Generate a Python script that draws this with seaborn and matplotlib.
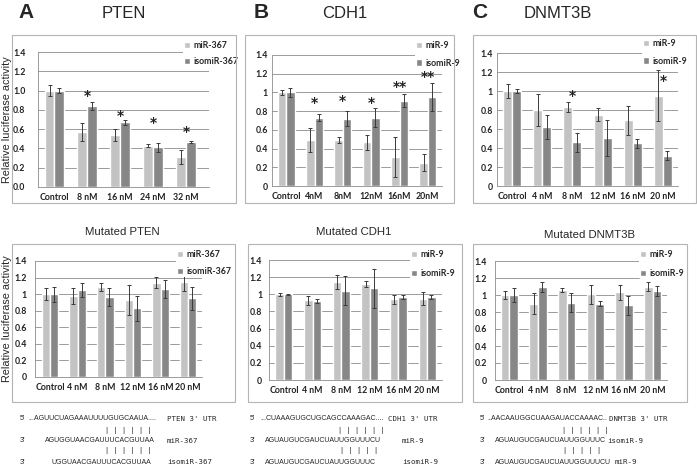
import matplotlib
matplotlib.use("Agg")
import numpy as np
import pandas as pd
import seaborn as sns
import matplotlib.pyplot as plt
from matplotlib.patches import Rectangle
from matplotlib import font_manager

# ---------------- data ----------------
series_367 = ['miR-367', 'isomiR-367']
series_9 = ['miR-9', 'isomiR-9']

doses_pten = ['Control', '8 nM', '16 nM', '24 nM', '32 nM']
doses_cdh1 = ['Control', '4nM', '8nM', '12nM', '16nM', '20nM']
doses_std = ['Control', '4 nM', '8 nM', '12 nM', '16 nM', '20 nM']

yticks_1dec = ['0.0', '0.2', '0.4', '0.6', '0.8', '1.0', '1.2', '1.4']
yticks_gen = ['0', '0.2', '0.4', '0.6', '0.8', '1', '1.2', '1.4']

# A  PTEN
pten_mir = [1.00, 0.57, 0.54, 0.43, 0.31]
pten_mir_sd = [0.06, 0.09, 0.06, 0.02, 0.07]
pten_iso = [1.00, 0.84, 0.67, 0.41, 0.47]
pten_iso_sd = [0.03, 0.04, 0.03, 0.05, 0.01]
pten_stars = ['', '*', '*', '*', '*']
pten_star_y = [0, 0.94, 0.74, 0.66, 0.57]

# B  CDH1
cdh1_mir = [1.00, 0.49, 0.49, 0.47, 0.31, 0.25]
cdh1_mir_sd = [0.03, 0.13, 0.03, 0.08, 0.21, 0.09]
cdh1_iso = [1.00, 0.73, 0.72, 0.73, 0.91, 0.95]
cdh1_iso_sd = [0.05, 0.04, 0.08, 0.10, 0.07, 0.15]
cdh1_stars = ['', '*', '*', '*', '**', '**']
cdh1_star_y = [0, 0.89, 0.91, 0.89, 1.06, 1.17]

# C  DNMT3B
dnmt_mir = [1.00, 0.80, 0.83, 0.75, 0.69, 0.95]
dnmt_mir_sd = [0.07, 0.17, 0.05, 0.07, 0.15, 0.27]
dnmt_iso = [1.00, 0.62, 0.46, 0.51, 0.45, 0.32]
dnmt_iso_sd = [0.02, 0.13, 0.10, 0.19, 0.05, 0.05]
dnmt_stars = ['', '', '*', '', '', '*']
dnmt_star_y = [0, 0, 0.95, 0, 0, 1.11]

# mutated PTEN
mpten_mir = [1.00, 0.98, 1.09, 0.93, 1.14, 1.15]
mpten_mir_sd = [0.07, 0.10, 0.05, 0.18, 0.07, 0.11]
mpten_iso = [1.00, 1.05, 0.97, 0.83, 1.06, 0.95]
mpten_iso_sd = [0.09, 0.09, 0.11, 0.15, 0.11, 0.14]

# mutated CDH1
mcdh1_mir = [1.00, 0.93, 1.14, 1.12, 0.94, 0.95]
mcdh1_mir_sd = [0.02, 0.05, 0.08, 0.03, 0.05, 0.08]
mcdh1_iso = [1.00, 0.92, 1.04, 1.07, 0.97, 0.97]
mcdh1_iso_sd = [0.005, 0.02, 0.17, 0.23, 0.02, 0.02]

# mutated DNMT3B
mdnmt_mir = [1.00, 0.90, 1.06, 1.01, 1.03, 1.10]
mdnmt_mir_sd = [0.05, 0.12, 0.02, 0.11, 0.09, 0.05]
mdnmt_iso = [1.00, 1.09, 0.91, 0.90, 0.88, 1.05]
mdnmt_iso_sd = [0.08, 0.06, 0.11, 0.03, 0.11, 0.06]

# sequence alignments under the charts
seq_pten = ["5'", "...AGUUCUAGAAAUUUUGUGCAAUA....", "PTEN 3' UTR",
            "3'", "AGUGGUAACGAUUUCACGUUAA", "miR-367",
            "3'", "UGGUAACGAUUUCACGUUAA", "isomiR-367"]
seq_cdh1 = ["5'", "...CUAAAGUGCUGCAGCCAAAGAC....", "CDH1 3' UTR",
            "3'", "AGUAUGUCGAUCUAUUGGUUUCU", "miR-9",
            "3'", "AGUAUGUCGAUCUAUUGGUUUC", "isomiR-9"]
seq_dnmt = ["5'", "..AACAAUGGCUAAGAUACCAAAAC..", "DNMT3B 3' UTR",
            "3'", "AGUAUGUCGAUCUAUUGGUUUC", "isomiR-9",
            "3'", "AGUAUGUCGAUCUAUUGGUUUCU", "miR-9"]
pairs = ['| | | | | |', '| | | | | |', '| | | | |']

# ---------------- style ----------------
W, H = 697, 466
LIGHT = '#c3c3c3'
DARK = '#878787'
GRID = '#8c8c8c'
sns.set_style('white')
plt.rcParams['font.family'] = ['Liberation Sans', 'DejaVu Sans']
TICKFONT = 'Lato'

names = {f.name for f in font_manager.fontManager.ttflist}
SEQFONT = 'Liberation Sans Narrow' if 'Liberation Sans Narrow' in names else 'Liberation Sans'

fig = plt.figure(figsize=(W / 100, H / 100), dpi=100)


def rect(x0, y0, x1, y1):
    return [x0 / W, 1 - y1 / H, (x1 - x0) / W, (y1 - y0) / H]


def panel(box, doses, series, mir, mir_sd, iso, iso_sd, ylabels, xlim, ypad,
          leg_xy, leg_space, stars=None, star_y=None):
    ax = fig.add_axes(rect(*box))
    n = len(doses)
    df = pd.DataFrame({'dose': doses * 2,
                       'series': [series[0]] * n + [series[1]] * n,
                       'value': mir + iso})
    sns.barplot(data=df, x='dose', y='value', hue='series', palette=[LIGHT, DARK],
                width=0.6, errorbar=None, saturation=1, legend=False, ax=ax)
    for cont, vals, sds in zip(ax.containers, [mir, iso], [mir_sd, iso_sd]):
        xs = [p.get_x() + p.get_width() / 2 for p in cont]
        ax.errorbar(xs, vals, yerr=sds, fmt='none', ecolor='#3a3a3a',
                    elinewidth=0.7, capsize=1.6, capthick=0.7)
    if stars:
        for i, (s, y) in enumerate(zip(stars, star_y)):
            if s:
                ax.text(i, y, s, ha='center', va='center', fontsize=10, zorder=8,
                        fontweight='bold', family='DejaVu Sans', color='#222222')
    ax.set_ylim(0, 1.4)
    ax.set_xlim(*xlim)
    ax.set_yticks(np.arange(0, 1.41, 0.2))
    ax.set_yticklabels(ylabels)
    ax.set_xlabel('')
    ax.set_ylabel('')
    ax.yaxis.grid(True, color=GRID, lw=0.6)
    ax.set_axisbelow(True)
    for sp in ['top', 'right']:
        ax.spines[sp].set_visible(False)
    for sp in ['left', 'bottom']:
        ax.spines[sp].set_color(GRID)
        ax.spines[sp].set_linewidth(0.6)
    ax.set_xticks(np.arange(-0.5, n, 1), minor=True)
    ax.tick_params(axis='x', which='major', length=0, pad=4)
    ax.tick_params(axis='x', which='minor', length=3, color=GRID, width=0.6)
    ax.tick_params(axis='y', length=0, pad=ypad)
    for lab in ax.get_xticklabels() + ax.get_yticklabels():
        lab.set_family(TICKFONT)
        lab.set_fontweight('bold')
        lab.set_fontsize(6.3)
        lab.set_color('#222222')
    ax.legend(handles=ax.containers, labels=series, loc='upper left',
              bbox_to_anchor=(leg_xy[0] / W, 1 - leg_xy[1] / H),
              bbox_transform=fig.transFigure, frameon=True, framealpha=1,
              edgecolor='none', borderpad=0.1, handlelength=0.7,
              handleheight=0.7, handletextpad=0.4, labelspacing=leg_space,
              prop={'family': TICKFONT, 'weight': 'bold', 'size': 6.3})
    return ax


# top row
panel((38, 52, 209, 187), doses_pten, series_367, pten_mir, pten_mir_sd, pten_iso,
      pten_iso_sd, yticks_1dec, (-0.45, 4.7), 9, (179, 36), 0.75, pten_stars, pten_star_y)
panel((272, 55, 442, 186), doses_cdh1, series_9, cdh1_mir, cdh1_mir_sd, cdh1_iso,
      cdh1_iso_sd, yticks_gen, (-0.3, 5.45), 3, (411, 36), 0.95, cdh1_stars, cdh1_star_y)
panel((497, 53, 678, 186), doses_std, series_9, dnmt_mir, dnmt_mir_sd, dnmt_iso,
      dnmt_iso_sd, yticks_gen, (-0.42, 5.35), 3, (638, 34), 0.95, dnmt_stars, dnmt_star_y)

# bottom row
panel((35, 261, 202, 377), doses_std, series_367, mpten_mir, mpten_mir_sd, mpten_iso,
      mpten_iso_sd, yticks_gen, (-0.54, 5.5), 6, (172, 245), 0.9)
panel((269, 260, 442, 380), doses_std, series_9, mcdh1_mir, mcdh1_mir_sd, mcdh1_iso,
      mcdh1_iso_sd, yticks_gen, (-0.52, 5.52), 5, (406, 245), 1.1)
panel((495, 261, 667, 380), doses_std, series_9, mdnmt_mir, mdnmt_mir_sd, mdnmt_iso,
      mdnmt_iso_sd, yticks_gen, (-0.49, 5.49), 6, (635, 245), 1.1)

# chart frames
for x0, y0, x1, y1 in [(12, 35, 236, 203), (245, 35, 454, 203), (473, 35, 696, 203),
                       (12, 244, 235, 402), (248, 244, 462, 402), (473, 244, 687, 402)]:
    fig.add_artist(Rectangle((x0 / W, 1 - y1 / H), (x1 - x0) / W, (y1 - y0) / H,
                             transform=fig.transFigure, fill=False, ec='#b4b4b4', lw=0.8))

# titles
for letter, x in [('A', 18), ('B', 254), ('C', 472)]:
    fig.text(x / W, 1 - 13 / H, letter, fontsize=15, fontweight='bold', va='center')
for title, x in [('PTEN', 124), ('CDH1', 345), ('DNMT3B', 558)]:
    fig.text(x / W, 1 - 13 / H, title, fontsize=12, ha='center', va='center')
for title, x, y in [('Mutated PTEN', 122, 232), ('Mutated CDH1', 354, 232),
                    ('Mutated DNMT3B', 590, 235)]:
    fig.text(x / W, 1 - y / H, title, fontsize=8.2, ha='center', va='center')

for yc in [120, 319]:
    fig.text(7 / W, 1 - yc / H, 'Relative luciferase activity', rotation=90,
             fontsize=7.8, ha='center', va='center')

# sequence alignments: (x of 5'/3', x of 5' strand, x of UTR label,
#                       x of two 3' strands, x of two miRNA labels, x of pair bars)
line_y = [419, 441, 462]
pair_y = [430, 451]
layouts = [
    (seq_pten, [20, 28, 167], [45, 52], [167, 167], (105, 105), pairs[:2]),
    (seq_cdh1, [250, 260, 388], [265, 265], [402, 402], (338, 340), [pairs[0], pairs[2]]),
    (seq_dnmt, [480, 487, 609], [495, 495], [607, 615], (562, 563), [pairs[0], pairs[2]]),
]
for seqs, x5, xs, xl, xp, pp in layouts:
    fig.text(x5[0] / W, 1 - line_y[0] / H, seqs[0], fontsize=5.3, va='center', family=SEQFONT)
    fig.text(x5[1] / W, 1 - line_y[0] / H, seqs[1], fontsize=5.0, va='center', family=SEQFONT)
    fig.text(x5[2] / W, 1 - line_y[0] / H, seqs[2], fontsize=5.3, va='center',
             family='DejaVu Sans Mono')
    for k in range(2):
        y = line_y[k + 1]
        fig.text(x5[0] / W, 1 - y / H, seqs[3 + 3 * k], fontsize=5.3, va='center', family=SEQFONT)
        fig.text(xs[k] / W, 1 - y / H, seqs[4 + 3 * k], fontsize=5.0, va='center',
                 family=SEQFONT)
        fig.text(xl[k] / W, 1 - y / H, seqs[5 + 3 * k], fontsize=5.3, va='center',
                 family='DejaVu Sans Mono')
        fig.text(xp[k] / W, 1 - pair_y[k] / H, pp[k], fontsize=5, va='center',
                 family='DejaVu Sans Mono')

fig.savefig('out.png', dpi=100)
